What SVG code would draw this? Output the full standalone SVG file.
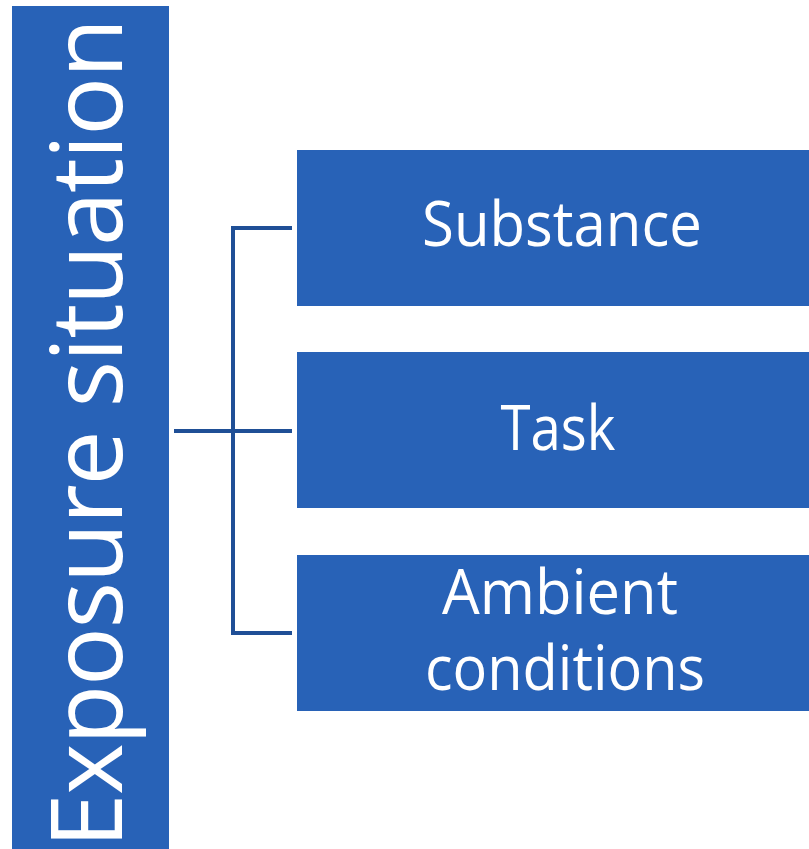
<svg xmlns="http://www.w3.org/2000/svg" width="809" height="849" viewBox="0 0 809 849">
<style>
.box{fill:#2862B7}
.lbl{fill:#fff;font-family:"Open Sans","Liberation Sans",sans-serif;font-size:62px;text-anchor:middle}
.title{fill:#fff;font-family:"Open Sans","Liberation Sans",sans-serif;font-size:98px}
.conn{stroke:#1F4F96;stroke-width:4;fill:none}
</style>
<rect width="809" height="849" fill="#fff"/>
<g id="root">
<rect class="box" x="12" y="6" width="157" height="843"/>
<text class="title" transform="translate(122,848) rotate(-90)" textLength="830" lengthAdjust="spacing">Exposure situation</text>
</g>
<g id="connectors">
<line class="conn" x1="174" y1="431" x2="292" y2="431"/>
<polyline class="conn" points="292,228 233,228 233,633 292,633"/>
</g>
<g id="substance">
<rect class="box" x="297" y="150" width="512" height="156"/>
<text class="lbl" x="562" y="246" textLength="280" lengthAdjust="spacingAndGlyphs">Substance</text>
</g>
<g id="task">
<rect class="box" x="297" y="352" width="512" height="156"/>
<text class="lbl" x="558" y="450" textLength="115" lengthAdjust="spacingAndGlyphs">Task</text>
</g>
<g id="ambient">
<rect class="box" x="297" y="555" width="512" height="156"/>
<text class="lbl" x="560" y="614" textLength="236" lengthAdjust="spacingAndGlyphs">Ambient</text>
<text class="lbl" x="565" y="690" textLength="280" lengthAdjust="spacingAndGlyphs">conditions</text>
</g>
</svg>
